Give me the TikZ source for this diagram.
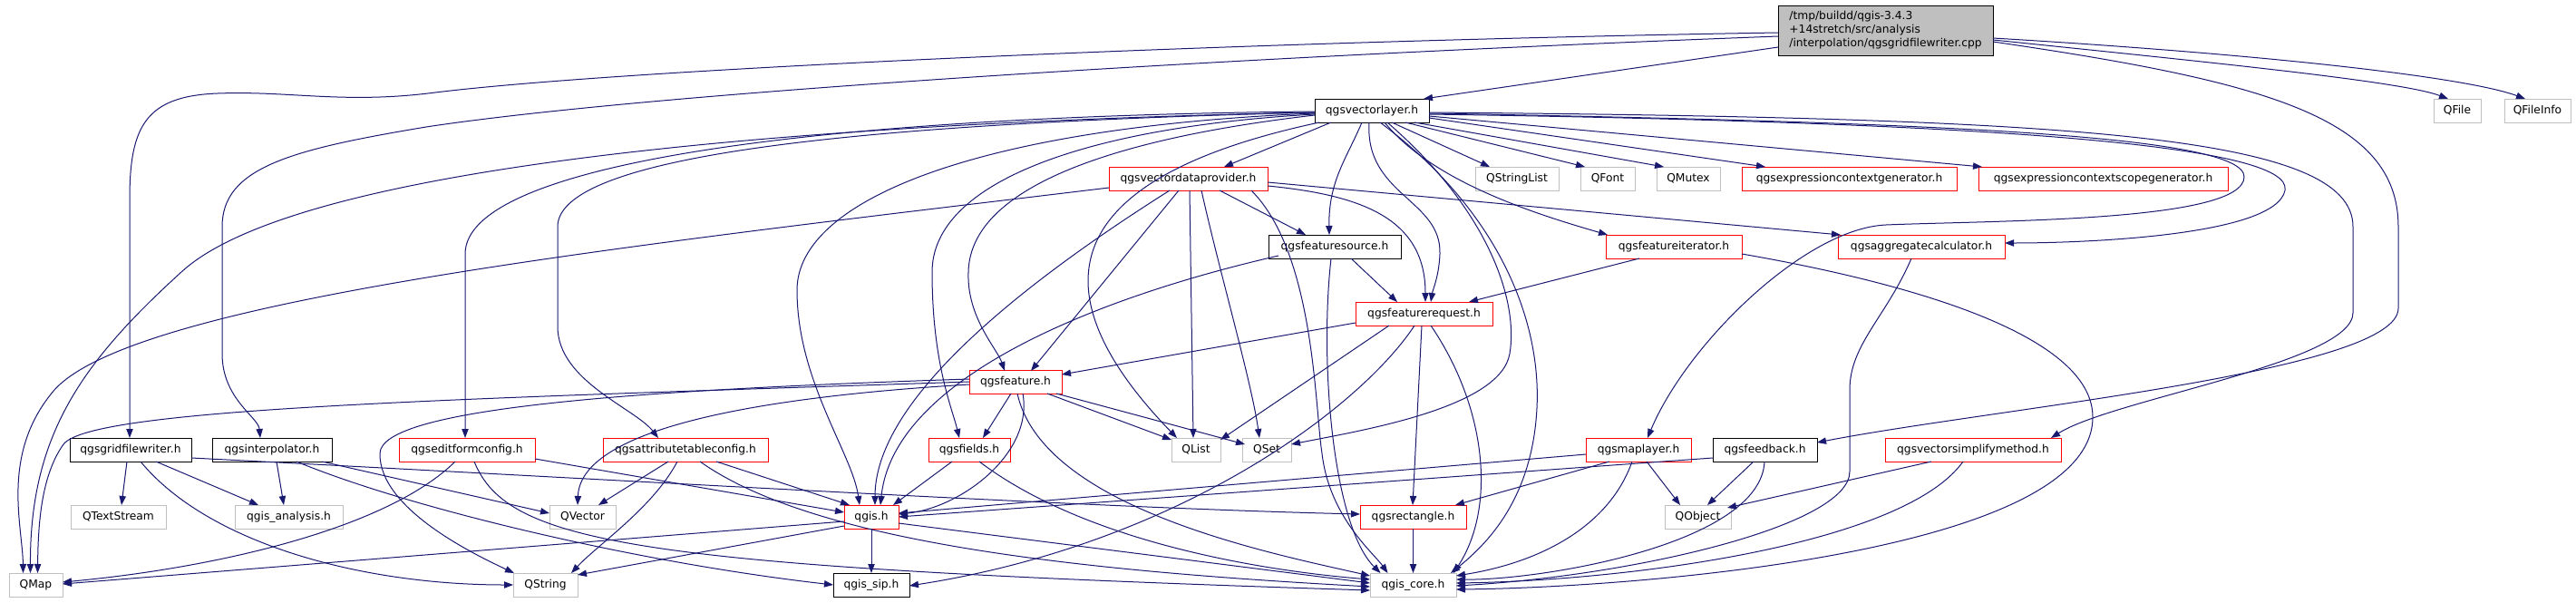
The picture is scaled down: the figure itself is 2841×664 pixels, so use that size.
\documentclass[tikz,border=0pt]{standalone}
\usepackage{fontspec}
\setmainfont{DejaVu Sans}
\usetikzlibrary{arrows.meta,calc}
\definecolor{edgec}{HTML}{191970}
\definecolor{grayb}{HTML}{BFBFBF}
\newcommand{\mknode}[6]{\node[#5, minimum width={#4*0.75pt}] (#1) at (#2,#3) {#6};}
\begin{document}
\begin{tikzpicture}[x=0.75pt,y=-0.75pt,
  font=\fontsize{9.2}{11.25}\selectfont,
  box/.style={rectangle, line width=0.75pt, inner sep=0pt, minimum height=19.5pt, fill=white},
  blk/.style={box, draw=black},
  rdb/.style={box, draw=red},
  gry/.style={box, draw=grayb},
  conn/.style={draw=edgec, line width=0.75pt, -{Triangle[length=7.5pt,width=5.5pt]}}]
\useasboundingbox (0,0) rectangle (2841,664);
% nodes
\node[box, draw=black, fill=grayb, align=left, minimum width=177.75pt, minimum height=41.25pt] (cpp) at (2079.5,33.5)
  {/tmp/buildd/qgis-3.4.3\\+14stretch/src/analysis\\/interpolation/qgsgridfilewriter.cpp};
\mknode{vl}{1513}{122}{126}{blk}{qgsvectorlayer.h}
\mknode{qfile}{2710}{122}{52}{gry}{QFile}
\mknode{qfileinfo}{2798.5}{122}{73}{gry}{QFileInfo}
\mknode{vdp}{1310.5}{197}{175}{rdb}{qgsvectordataprovider.h}
\mknode{qsl}{1673}{197}{92}{gry}{QStringList}
\mknode{qfont}{1773}{197}{60}{gry}{QFont}
\mknode{qmutex}{1862}{197}{70}{gry}{QMutex}
\mknode{ecg}{2039.5}{197}{237}{rdb}{qgsexpressioncontextgenerator.h}
\mknode{ecsg}{2319.5}{197}{275}{rdb}{qgsexpressioncontextscopegenerator.h}
\mknode{fs}{1472}{272}{146}{blk}{qgsfeaturesource.h}
\mknode{fi}{1846}{272}{150}{rdb}{qgsfeatureiterator.h}
\mknode{ac}{2119}{272}{184}{rdb}{qgsaggregatecalculator.h}
\mknode{fr}{1570.5}{346}{151}{rdb}{qgsfeaturerequest.h}
\mknode{feat}{1120}{421.5}{102}{rdb}{qgsfeature.h}
\mknode{gfw}{144}{496}{134}{blk}{qgsgridfilewriter.h}
\mknode{interp}{300}{496}{132}{blk}{qgsinterpolator.h}
\mknode{efc}{515}{496}{150}{rdb}{qgseditformconfig.h}
\mknode{atc}{756}{496}{182}{rdb}{qgsattributetableconfig.h}
\mknode{fields}{1069}{496}{90}{rdb}{qgsfields.h}
\mknode{qlist}{1319}{496}{54}{gry}{QList}
\mknode{qset}{1397}{496}{54}{gry}{QSet}
\mknode{ml}{1807}{496}{116}{rdb}{qgsmaplayer.h}
\mknode{fb}{1946.5}{496}{115}{blk}{qgsfeedback.h}
\mknode{vsm}{2176}{496}{194}{rdb}{qgsvectorsimplifymethod.h}
\mknode{qts}{130.5}{570}{105}{gry}{QTextStream}
\mknode{qan}{318.5}{570}{119}{gry}{qgis\_analysis.h}
\mknode{qvec}{642.5}{570}{73}{gry}{QVector}
\mknode{qgis}{961}{570}{60}{rdb}{qgis.h}
\mknode{qrect}{1558.5}{570}{117}{rdb}{qgsrectangle.h}
\mknode{qobj}{1872.5}{570}{73}{gry}{QObject}
\mknode{qmap}{39.5}{645}{59}{gry}{QMap}
\mknode{qstr}{601.5}{645}{71}{gry}{QString}
\mknode{sip}{961}{645}{84}{blk}{qgis\_sip.h}
\mknode{core}{1558.5}{645}{95}{gry}{qgis\_core.h}
% edges from cpp
\draw[conn] ($(cpp)+(-118.5,18.5)$) -- ($(vl)+(57,-13)$);
\draw[conn] ($(cpp)+(118.5,10.5)$) .. controls (2450,70) and (2650,90) .. ($(qfile)+(-10,-13)$);
\draw[conn] ($(cpp)+(118.5,8.5)$) .. controls (2500,60) and (2720,85) .. ($(qfileinfo)+(-13.5,-13)$);
\draw[conn] ($(cpp)+(118.5,12.5)$) .. controls (2500,90) and (2645,130) .. (2645,250) -- (2645,340) .. controls (2645,410) and (2200,450) .. ($(fb)+(57.5,-8)$);
\draw[conn] ($(cpp)+(-118.5,2.5)$) .. controls (1400,45) and (700,75) .. (480,102) .. controls (380,115) and (320,100) .. (240,103) .. controls (160,106) and (143,140) .. (143,220) -- ($(gfw)+(-1,-13)$);
\draw[conn] ($(cpp)+(-118.5,6.5)$) .. controls (1300,65) and (700,105) .. (470,140) .. controls (320,165) and (245,185) .. (245,250) -- (245,390) .. controls (245,440) and (285,460) .. ($(interp)+(-13,-13)$);
% edges from qgsvectorlayer.h
\draw[conn] ($(vl)+(-63,2)$) .. controls (900,135) and (330,180) .. (200,300) .. controls (90,400) and (33,480) .. ($(qmap)+(-6,-13)$);
\draw[conn] ($(vl)+(-45,13)$) -- ($(vdp)+(39.5,-13)$);
\draw[conn] ($(vl)+(22,13)$) -- ($(qsl)+(-30,-13)$);
\draw[conn] ($(vl)+(37,13)$) -- ($(qfont)+(-25,-13)$);
\draw[conn] ($(vl)+(47,13)$) -- ($(qmutex)+(-27,-13)$);
\draw[conn] ($(vl)+(63,8)$) -- ($(ecg)+(-92.5,-13)$);
\draw[conn] ($(vl)+(63,6)$) -- ($(ecsg)+(-133.5,-13)$);
\draw[conn] ($(vl)+(-11,13)$) .. controls (1485,175) and (1465,200) .. ($(fs)+(-6,-13)$);
\draw[conn] ($(vl)+(-3,13)$) .. controls (1505,215) and (1590,220) .. (1588,280) .. controls (1587,305) and (1580,320) .. ($(fr)+(7.5,-13)$);
\draw[conn] ($(vl)+(14,13)$) .. controls (1580,200) and (1690,235) .. ($(fi)+(-73,-13)$);
\draw[conn] ($(vl)+(63,4)$) .. controls (2200,135) and (2530,160) .. (2520,210) .. controls (2510,260) and (2300,268) .. ($(ac)+(92,-4)$);
\draw[conn] ($(vl)+(63,3)$) .. controls (2150,135) and (2475,150) .. (2475,195) .. controls (2475,245) and (2200,243) .. (2080,248) .. controls (1990,252) and (1860,380) .. ($(ml)+(10,-13)$);
\draw[conn] ($(vl)+(63,2)$) .. controls (2300,130) and (2595,150) .. (2595,250) -- (2595,345) .. controls (2595,400) and (2330,440) .. ($(vsm)+(86,-13)$);
\draw[conn] ($(vl)+(-63,5)$) .. controls (1250,150) and (1070,200) .. (1068,300) .. controls (1066,350) and (1100,385) .. ($(feat)+(-12,-12.5)$);
\draw[conn] ($(vl)+(-63,4)$) .. controls (1200,140) and (1028,200) .. (1028,300) .. controls (1028,400) and (1050,450) .. ($(fields)+(-11,-13)$);
\draw[conn] ($(vl)+(-63,3)$) .. controls (1080,140) and (879,220) .. (879,320) .. controls (879,420) and (940,500) .. ($(qgis)+(-13,-13)$);
\draw[conn] ($(vl)+(-63,2)$) .. controls (1000,135) and (615,165) .. (615,250) -- (615,360) .. controls (615,420) and (700,450) .. ($(atc)+(-30,-13)$);
\draw[conn] ($(vl)+(-63,1)$) .. controls (900,128) and (513,180) .. (513,280) -- ($(efc)+(-2,-13)$);
\draw[conn] ($(vl)+(-58,13)$) .. controls (1150,200) and (1150,330) .. ($(qlist)+(-21,-13)$);
\draw[conn] ($(vl)+(17,13)$) .. controls (1640,230) and (1675,330) .. (1665,390) .. controls (1655,450) and (1500,475) .. ($(qset)+(27,-6)$);
\draw[conn] ($(vl)+(9,13)$) .. controls (1650,230) and (1700,350) .. (1695,450) .. controls (1690,550) and (1640,600) .. ($(core)+(41.5,-13)$);
% edges from qgsvectordataprovider.h
\draw[conn] ($(vdp)+(-87.5,10)$) .. controls (700,270) and (150,330) .. (60,430) .. controls (0,500) and (25,580) .. ($(qmap)+(-14,-13)$);
\draw[conn] ($(vdp)+(34.5,13)$) -- ($(fs)+(-32,-13)$);
\draw[conn] ($(vdp)+(87.5,8)$) .. controls (1500,215) and (1572,240) .. ($(fr)+(1.5,-13)$);
\draw[conn] ($(vdp)+(87.5,4)$) -- ($(ac)+(-89,-13)$);
\draw[conn] ($(vdp)+(-10.5,13)$) -- ($(feat)+(17,-12.5)$);
\draw[conn] ($(vdp)+(-20.5,13)$) .. controls (1100,330) and (965,450) .. ($(qgis)+(4,-13)$);
\draw[conn] ($(vdp)+(1.5,13)$) -- ($(qlist)+(-3,-13)$);
\draw[conn] ($(vdp)+(14.5,13)$) .. controls (1345,300) and (1380,420) .. ($(qset)+(-8,-13)$);
\draw[conn] ($(vdp)+(69.5,13)$) .. controls (1450,280) and (1450,450) .. (1458,500) .. controls (1466,570) and (1515,610) .. ($(core)+(-28,-13)$);
% qgsfeaturesource.h
\draw[conn] ($(fs)+(18,13)$) -- ($(fr)+(-29.5,-13)$);
\draw[conn] ($(fs)+(-62,10)$) .. controls (1200,330) and (985,420) .. ($(qgis)+(10,-13)$);
\draw[conn] ($(fs)+(-4,13)$) .. controls (1455,400) and (1470,580) .. ($(core)+(-36,-13)$);
% qgsfeatureiterator.h
\draw[conn] ($(fi)+(-38,13)$) -- ($(fr)+(49.5,-13)$);
\draw[conn] ($(fi)+(75,8)$) .. controls (2150,320) and (2308,380) .. (2308,460) .. controls (2308,610) and (1800,648) .. ($(core)+(47.5,5)$);
% qgsaggregatecalculator.h
\draw[conn] ($(ac)+(-11,13)$) .. controls (2080,350) and (2040,380) .. (2040,430) -- (2040,520) .. controls (2040,580) and (1800,635) .. ($(core)+(47.5,1)$);
% qgsfeaturerequest.h
\draw[conn] ($(fr)+(-75.5,10)$) -- ($(feat)+(51,-8.5)$);
\draw[conn] ($(fr)+(-38.5,13)$) -- ($(qlist)+(27,-11)$);
\draw[conn] ($(fr)+(-2.5,13)$) -- ($(qrect)+(-0.5,-13)$);
\draw[conn] ($(fr)+(7.5,13)$) .. controls (1640,450) and (1650,560) .. ($(core)+(44.5,-13)$);
\draw[conn] ($(fr)+(-10.5,13)$) .. controls (1500,450) and (1300,600) .. ($(sip)+(42,1)$);
% qgsfeature.h
\draw[conn] ($(feat)+(-51,-0.5)$) .. controls (500,440) and (100,450) .. (70,490) .. controls (45,525) and (42,580) .. ($(qmap)+(2,-13)$);
\draw[conn] ($(feat)+(-51,-3.5)$) .. controls (700,430) and (420,450) .. (419,500) .. controls (418,560) and (520,610) .. ($(qstr)+(-34.5,-13)$);
\draw[conn] ($(feat)+(-51,2.5)$) .. controls (800,440) and (640,480) .. ($(qvec)+(-5.5,-13)$);
\draw[conn] ($(feat)+(-5,12.5)$) -- ($(fields)+(15,-13)$);
\draw[conn] ($(feat)+(8,12.5)$) .. controls (1140,500) and (1060,560) .. ($(qgis)+(30,-3)$);
\draw[conn] ($(feat)+(35,12.5)$) -- ($(qlist)+(-27,-11)$);
\draw[conn] ($(feat)+(45,12.5)$) -- ($(qset)+(-24,-6)$);
\draw[conn] ($(feat)+(2,12.5)$) .. controls (1150,560) and (1400,610) .. ($(core)+(-47.5,-10)$);
% qgsfields.h
\draw[conn] ($(fields)+(-19,13)$) -- ($(qgis)+(24,-13)$);
\draw[conn] ($(fields)+(11,13)$) .. controls (1200,600) and (1400,630) .. ($(core)+(-47.5,-6)$);
% qgsgridfilewriter.h
\draw[conn] ($(gfw)+(-4,13)$) -- ($(qts)+(3.5,-13)$);
\draw[conn] ($(gfw)+(28,13)$) -- ($(qan)+(-33.5,-13)$);
\draw[conn] ($(gfw)+(11,13)$) .. controls (230,600) and (400,645) .. ($(qstr)+(-35.5,0)$);
\draw[conn] ($(gfw)+(67,9)$) .. controls (700,530) and (1200,560) .. ($(qrect)+(-58.5,-3)$);
% qgsinterpolator.h
\draw[conn] ($(interp)+(5,13)$) -- ($(qan)+(-5.5,-13)$);
\draw[conn] ($(interp)+(55,13)$) -- ($(qvec)+(-36.5,-4)$);
\draw[conn] ($(interp)+(27,13)$) .. controls (450,560) and (700,620) .. ($(sip)+(-42,0)$);
% qgseditformconfig.h
\draw[conn] ($(efc)+(-13,13)$) .. controls (430,580) and (250,625) .. ($(qmap)+(29.5,-3)$);
\draw[conn] ($(efc)+(75,10)$) -- ($(qgis)+(-30,-5)$);
\draw[conn] ($(efc)+(8,13)$) .. controls (560,600) and (700,625) .. ($(core)+(-47.5,6)$);
% qgsattributetableconfig.h
\draw[conn] ($(atc)+(-19,13)$) -- ($(qvec)+(17.5,-13)$);
\draw[conn] ($(atc)+(-9,13)$) .. controls (720,560) and (660,600) .. ($(qstr)+(28.5,-13)$);
\draw[conn] ($(atc)+(34,13)$) -- ($(qgis)+(-24,-13)$);
\draw[conn] ($(atc)+(16,13)$) .. controls (900,600) and (1200,630) .. ($(core)+(-47.5,2)$);
% qgsmaplayer.h
\draw[conn] ($(ml)+(-58,5)$) -- ($(qgis)+(30,-4)$);
\draw[conn] ($(ml)+(-32,13)$) -- ($(qrect)+(46.5,-13)$);
\draw[conn] ($(ml)+(9,13)$) -- ($(qobj)+(-19.5,-13)$);
\draw[conn] ($(ml)+(-7,13)$) .. controls (1775,580) and (1700,620) .. ($(core)+(47.5,-10)$);
% qgsfeedback.h
\draw[conn] ($(fb)+(-57.5,9)$) -- ($(qgis)+(30,0)$);
\draw[conn] ($(fb)+(-12.5,13)$) -- ($(qobj)+(10.5,-13)$);
\draw[conn] ($(fb)+(-0.5,13)$) .. controls (1942,600) and (1700,640) .. ($(core)+(47.5,-6)$);
% qgsvectorsimplifymethod.h
\draw[conn] ($(vsm)+(-46,13)$) -- ($(qobj)+(32.5,-10)$);
\draw[conn] ($(vsm)+(-11,13)$) .. controls (2100,600) and (1800,640) .. ($(core)+(47.5,-2)$);
% qgis.h
\draw[conn] ($(qgis)+(-30,5)$) -- ($(qmap)+(29.5,-1)$);
\draw[conn] ($(qgis)+(-30,10)$) -- ($(qstr)+(35.5,-11)$);
\draw[conn] ($(qgis)+(0,13)$) -- ($(sip)+(0,-13)$);
\draw[conn] ($(qgis)+(30,7)$) -- ($(core)+(-47.5,-2)$);
% qgsrectangle.h
\draw[conn] ($(qrect)+(0,13)$) -- ($(core)+(0,-13)$);
\end{tikzpicture}
\end{document}
